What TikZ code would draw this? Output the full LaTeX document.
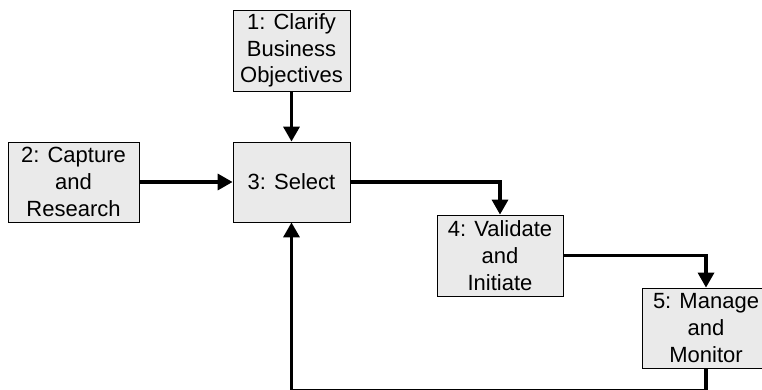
\documentclass[tikz,border=0pt]{standalone}
\usepackage{fontspec}
\setmainfont{Liberation Sans}
\usetikzlibrary{arrows.meta,shadows}
\begin{document}
\begin{tikzpicture}[x=1pt,y=-1pt,
  box/.style={draw=black,line width=0.8pt,fill=boxfill,align=center,inner sep=0pt,
    font=\fontsize{22}{26.7}\selectfont,
    drop shadow={shadow xshift=1.2pt,shadow yshift=-1.2pt,fill=black!55,opacity=1}},
  flow/.style={line width=3.3pt,-{Triangle[length=15pt,width=16pt]}}]
\definecolor{boxfill}{HTML}{EAEAEA}
\useasboundingbox (0,0) rectangle (762,390);
\node[box,minimum width=117pt,minimum height=81pt] (b1) at (291.5,50.5) {1: Clarify\\Business\\Objectives};
\node[box,minimum width=131pt,minimum height=80pt] (b2) at (73.5,182) {2: Capture\\and\\Research};
\node[box,minimum width=117pt,minimum height=80pt] (b3) at (291.5,182) {3: Select};
\node[box,minimum width=126pt,minimum height=81pt] (b4) at (500,255.5) {4: Validate\\and\\Initiate};
\node[box,minimum width=128pt,minimum height=80pt] (b5) at (706,328) {5: Manage\\and\\Monitor};
\coordinate (c5) at (706,390.3);
\draw[flow] (b1) -- (b3);
\draw[flow] (b2) -- (b3);
\draw[flow] (b3.east) -| (b4.north);
\draw[flow] (b4.east) -| (b5.north);
\draw[flow] (b5.south) -- (c5) -| (b3.south);
\end{tikzpicture}
\end{document}
